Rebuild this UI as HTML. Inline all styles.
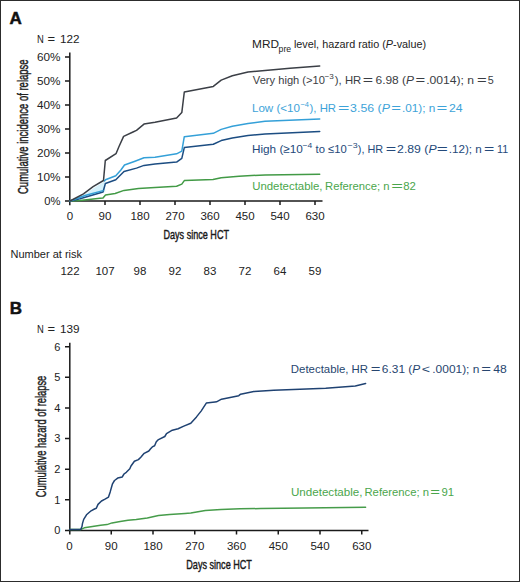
<!DOCTYPE html>
<html><head><meta charset="utf-8">
<style>
html,body{margin:0;padding:0;background:#fff;}
body{width:520px;height:582px;overflow:hidden;}
svg{display:block;}
text{font-family:"Liberation Sans",sans-serif;}
</style></head>
<body>
<svg width="520" height="582" viewBox="0 0 520 582">
<rect x="0.5" y="0.5" width="519" height="581" fill="#fff" stroke="#2c2c2c" stroke-width="1"/>

<!-- ============ PANEL A ============ -->
<text x="9.6" y="24" font-size="17" font-weight="bold" fill="#111" stroke="#111" stroke-width="0.5">A</text>
<g font-size="11.4" fill="#222"><text x="37" y="43" textLength="6.8" lengthAdjust="spacingAndGlyphs">N</text><text x="47.6" y="43" textLength="7.6" lengthAdjust="spacingAndGlyphs">=</text><text x="59.9" y="43" textLength="19.6" lengthAdjust="spacingAndGlyphs">122</text></g>

<!-- y axis title -->
<text transform="translate(28.3,194) rotate(-90)" font-size="14.4" fill="#222" stroke="#222" stroke-width="0.45" textLength="134.6" lengthAdjust="spacingAndGlyphs">Cumulative incidence of relapse</text>

<!-- y tick labels -->
<g font-size="11" fill="#222" text-anchor="end">
<text x="60.5" y="61" textLength="23.5" lengthAdjust="spacingAndGlyphs">60%</text>
<text x="60.5" y="85" textLength="23.5" lengthAdjust="spacingAndGlyphs">50%</text>
<text x="60.5" y="109" textLength="23.5" lengthAdjust="spacingAndGlyphs">40%</text>
<text x="60.5" y="133" textLength="23.5" lengthAdjust="spacingAndGlyphs">30%</text>
<text x="60.5" y="157" textLength="23.5" lengthAdjust="spacingAndGlyphs">20%</text>
<text x="60.5" y="181" textLength="23.5" lengthAdjust="spacingAndGlyphs">10%</text>
<text x="60.5" y="205" textLength="16.2" lengthAdjust="spacingAndGlyphs">0%</text>
</g>

<!-- axes -->
<g stroke="#1a1a1a" stroke-width="1.5" fill="none">
<path d="M69.8,52.6 V205.3"/>
<path d="M69,201 H322.5"/>
<path d="M65,57 H70 M65,81 H70 M65,105 H70 M65,129 H70 M65,153 H70 M65,177 H70 M65,201 H70"/>
<path d="M105,201 V205 M140,201 V205 M175,201 V205 M210,201 V205 M245,201 V205 M280,201 V205 M315,201 V205"/>
</g>

<!-- x tick labels -->
<g font-size="11.5" fill="#222" text-anchor="middle">
<text x="70" y="219.8">0</text>
<text x="105" y="219.8">90</text>
<text x="140" y="219.8">180</text>
<text x="175" y="219.8">270</text>
<text x="210" y="219.8">360</text>
<text x="245" y="219.8">450</text>
<text x="280" y="219.8">540</text>
<text x="315" y="219.8">630</text>
</g>
<text x="163.5" y="238.6" font-size="13.3" fill="#1a1a1a" stroke="#1a1a1a" stroke-width="0.45" textLength="65.5" lengthAdjust="spacingAndGlyphs">Days since HCT</text>

<!-- curves A -->
<polygon points="70,201 83.5,195.3 93.1,188.6 103.3,182.3 105,181.5 105.3,192 103,192.5" fill="#d5f1fb"/>
<g fill="none" stroke-width="1.5" stroke-linejoin="round" stroke-linecap="round">
<path stroke="#429a46" d="M70,201 L80,200.5 L100,198.3 L103,198 L105.5,195 L115.1,193.5 L124,190.4 L138.5,188.5 L155,187.6 L176.6,186.2 L181.8,184.1 L184.3,180.6 L213,179.5 L221.2,177.7 L239,176.2 L265,174.9 L319.7,174.3"/>
<path stroke="#1c4d82" d="M70,201 L80,198.8 L103,192 L105.4,183.5 L115.8,179.8 L124,171.5 L136.5,168.1 L144,165.4 L155,164.1 L176.6,162.1 L181.8,158.4 L184.3,147.6 L213.3,144.2 L221.2,140.6 L232.3,138 L248,135.4 L265,134.1 L319.7,131.4"/>
<path stroke="#34a0d8" d="M70,201 L85,195.5 L103,190.6 M104.5,181 L105.5,179.8 L115.8,175.7 L120.9,170 L124.5,165 L135,161.2 L144,157.8 L155,157.3 L176.6,153.8 L181.8,151.1 L184.3,136.7 L213.3,133.3 L221.2,129.4 L232.3,126.2 L248,123.4 L265,121.3 L319.7,118.9"/>
<path stroke="#3b3f46" d="M70,201 L83.5,193.8 L93.1,186.7 L103.5,180.5 L105.3,160.5 L116,153.7 L118.8,147 L123.6,136.4 L133,132 L136.5,130.3 L144,124.1 L155,122.3 L176.6,118.1 L181.8,112.6 L184.3,92 L213.3,86.4 L221.2,80.1 L232.3,75.8 L248,72 L265,70.6 L290,68.2 L319.7,66"/>
</g>

<!-- legend A -->
<g id="legend">
<text x="252.13" y="48.40" font-size="11.60" fill="#222" textLength="26.94" lengthAdjust="spacingAndGlyphs">MRD</text>
<text x="278.64" y="51.50" font-size="8.50" fill="#222" textLength="12.54" lengthAdjust="spacingAndGlyphs">pre</text>
<text x="293.88" y="48.40" font-size="11.60" fill="#222" textLength="132.29" lengthAdjust="spacingAndGlyphs">level, hazard ratio (<tspan font-style="italic">P</tspan>-value)</text>
<text x="252.86" y="83.60" font-size="11.60" fill="#3a3d43" textLength="72.09" lengthAdjust="spacingAndGlyphs">Very high (&gt;10</text>
<text x="324.50" y="78.80" font-size="7.80" fill="#3a3d43" textLength="9.26" lengthAdjust="spacingAndGlyphs">−3</text>
<text x="334.83" y="83.60" font-size="11.60" fill="#3a3d43" textLength="26.49" lengthAdjust="spacingAndGlyphs">), HR</text>
<text x="362.83" y="83.60" font-size="11.60" fill="#3a3d43" textLength="10.33" lengthAdjust="spacingAndGlyphs">=</text>
<text x="375.49" y="83.60" font-size="11.60" fill="#3a3d43" textLength="38.58" lengthAdjust="spacingAndGlyphs">6.98 (<tspan font-style="italic">P</tspan></text>
<text x="415.48" y="83.60" font-size="11.60" fill="#3a3d43" textLength="9.73" lengthAdjust="spacingAndGlyphs">=</text>
<text x="426.20" y="83.60" font-size="11.60" fill="#3a3d43" textLength="47.90" lengthAdjust="spacingAndGlyphs">.0014); n</text>
<text x="477.08" y="83.60" font-size="11.60" fill="#3a3d43" textLength="9.73" lengthAdjust="spacingAndGlyphs">=</text>
<text x="487.87" y="83.60" font-size="11.60" fill="#3a3d43" textLength="5.98" lengthAdjust="spacingAndGlyphs">5</text>
<text x="251.95" y="112.00" font-size="11.60" fill="#3da3d9" textLength="48.11" lengthAdjust="spacingAndGlyphs">Low (&lt;10</text>
<text x="300.43" y="107.20" font-size="7.80" fill="#3da3d9" textLength="8.59" lengthAdjust="spacingAndGlyphs">−4</text>
<text x="309.53" y="112.00" font-size="11.60" fill="#3da3d9" textLength="26.59" lengthAdjust="spacingAndGlyphs">), HR</text>
<text x="338.04" y="112.00" font-size="11.60" fill="#3da3d9" textLength="11.42" lengthAdjust="spacingAndGlyphs">=</text>
<text x="350.13" y="112.00" font-size="11.60" fill="#3da3d9" textLength="39.74" lengthAdjust="spacingAndGlyphs">3.56 (<tspan font-style="italic">P</tspan></text>
<text x="391.28" y="112.00" font-size="11.60" fill="#3da3d9" textLength="9.73" lengthAdjust="spacingAndGlyphs">=</text>
<text x="402.03" y="112.00" font-size="11.60" fill="#3da3d9" textLength="33.33" lengthAdjust="spacingAndGlyphs">.01); n</text>
<text x="436.59" y="112.00" font-size="11.60" fill="#3da3d9" textLength="10.81" lengthAdjust="spacingAndGlyphs">=</text>
<text x="448.99" y="112.00" font-size="11.60" fill="#3da3d9" textLength="13.68" lengthAdjust="spacingAndGlyphs">24</text>
<text x="251.94" y="152.80" font-size="11.60" fill="#24497a" textLength="50.93" lengthAdjust="spacingAndGlyphs">High (≥10</text>
<text x="302.48" y="148.00" font-size="7.80" fill="#24497a" textLength="9.66" lengthAdjust="spacingAndGlyphs">−4</text>
<text x="315.53" y="152.80" font-size="11.60" fill="#24497a" textLength="31.21" lengthAdjust="spacingAndGlyphs">to ≤10</text>
<text x="347.57" y="148.00" font-size="7.80" fill="#24497a" textLength="10.02" lengthAdjust="spacingAndGlyphs">−3</text>
<text x="357.83" y="152.80" font-size="11.60" fill="#24497a" textLength="25.37" lengthAdjust="spacingAndGlyphs">), HR</text>
<text x="385.82" y="152.80" font-size="11.60" fill="#24497a" textLength="10.45" lengthAdjust="spacingAndGlyphs">=</text>
<text x="397.09" y="152.80" font-size="11.60" fill="#24497a" textLength="39.49" lengthAdjust="spacingAndGlyphs">2.89 (<tspan font-style="italic">P</tspan></text>
<text x="436.77" y="152.80" font-size="11.60" fill="#24497a" textLength="11.05" lengthAdjust="spacingAndGlyphs">=</text>
<text x="448.74" y="152.80" font-size="11.60" fill="#24497a" textLength="33.02" lengthAdjust="spacingAndGlyphs">.12); n</text>
<text x="484.13" y="152.80" font-size="11.60" fill="#24497a" textLength="10.33" lengthAdjust="spacingAndGlyphs">=</text>
<text x="496.98" y="152.80" font-size="11.60" fill="#24497a" textLength="11.14" lengthAdjust="spacingAndGlyphs">11</text>
<text x="252.22" y="190.40" font-size="11.60" fill="#4aa64c" textLength="70.30" lengthAdjust="spacingAndGlyphs">Undetectable,</text>
<text x="325.08" y="190.40" font-size="11.60" fill="#4aa64c" textLength="64.46" lengthAdjust="spacingAndGlyphs">Reference; n</text>
<text x="391.31" y="190.40" font-size="11.60" fill="#4aa64c" textLength="11.78" lengthAdjust="spacingAndGlyphs">=</text>
<text x="403.31" y="190.40" font-size="11.60" fill="#4aa64c" textLength="12.66" lengthAdjust="spacingAndGlyphs">82</text>
<text x="290.87" y="372.70" font-size="11.60" fill="#27466f" textLength="57.66" lengthAdjust="spacingAndGlyphs">Detectable,</text>
<text x="351.57" y="372.70" font-size="11.60" fill="#27466f" textLength="16.46" lengthAdjust="spacingAndGlyphs">HR</text>
<text x="370.68" y="372.70" font-size="11.60" fill="#27466f" textLength="9.73" lengthAdjust="spacingAndGlyphs">=</text>
<text x="381.89" y="372.70" font-size="11.60" fill="#27466f" textLength="38.38" lengthAdjust="spacingAndGlyphs">6.31 (<tspan font-style="italic">P</tspan></text>
<text x="421.80" y="372.70" font-size="11.60" fill="#27466f" textLength="8.29" lengthAdjust="spacingAndGlyphs">&lt;</text>
<text x="432.32" y="372.70" font-size="11.60" fill="#27466f" textLength="47.06" lengthAdjust="spacingAndGlyphs">.0001); n</text>
<text x="481.28" y="372.70" font-size="11.60" fill="#27466f" textLength="9.73" lengthAdjust="spacingAndGlyphs">=</text>
<text x="493.32" y="372.70" font-size="11.60" fill="#27466f" textLength="13.51" lengthAdjust="spacingAndGlyphs">48</text>
<text x="290.91" y="495.80" font-size="11.60" fill="#4aa64c" textLength="71.64" lengthAdjust="spacingAndGlyphs">Undetectable,</text>
<text x="364.48" y="495.80" font-size="11.60" fill="#4aa64c" textLength="64.56" lengthAdjust="spacingAndGlyphs">Reference; n</text>
<text x="430.28" y="495.80" font-size="11.60" fill="#4aa64c" textLength="9.73" lengthAdjust="spacingAndGlyphs">=</text>
<text x="441.57" y="495.80" font-size="11.60" fill="#4aa64c" textLength="12.59" lengthAdjust="spacingAndGlyphs">91</text>

</g>

<!-- number at risk -->
<text x="10.5" y="257.5" font-size="11" fill="#222" textLength="71.5" lengthAdjust="spacingAndGlyphs">Number at risk</text>
<g font-size="11.5" fill="#222" text-anchor="middle">
<text x="70" y="275">122</text>
<text x="105" y="275">107</text>
<text x="140" y="275">98</text>
<text x="175" y="275">92</text>
<text x="210" y="275">83</text>
<text x="245" y="275">72</text>
<text x="280" y="275">64</text>
<text x="315" y="275">59</text>
</g>

<!-- ============ PANEL B ============ -->
<text x="9.8" y="313.8" font-size="17" font-weight="bold" fill="#111" stroke="#111" stroke-width="0.5">B</text>
<g font-size="11.4" fill="#222"><text x="37" y="333" textLength="6.8" lengthAdjust="spacingAndGlyphs">N</text><text x="47.6" y="333" textLength="7.6" lengthAdjust="spacingAndGlyphs">=</text><text x="59.9" y="333" textLength="19.6" lengthAdjust="spacingAndGlyphs">139</text></g>

<text transform="translate(46.2,497.3) rotate(-90)" font-size="14.4" fill="#222" stroke="#222" stroke-width="0.45" textLength="121.6" lengthAdjust="spacingAndGlyphs">Cumulative hazard of relapse</text>

<g font-size="11" fill="#222" text-anchor="end">
<text x="60.4" y="350.5">6</text>
<text x="60.4" y="381.1">5</text>
<text x="60.4" y="411.7">4</text>
<text x="60.4" y="442.3">3</text>
<text x="60.4" y="473.0">2</text>
<text x="60.4" y="503.6">1</text>
<text x="60.4" y="534.2">0</text>
</g>

<g stroke="#1a1a1a" stroke-width="1.5" fill="none">
<path d="M69.8,342.7 V534.6"/>
<path d="M69,530.4 H368.5"/>
<path d="M65,346.7 H70 M65,377.3 H70 M65,407.9 H70 M65,438.5 H70 M65,469.2 H70 M65,499.8 H70 M65,530.4 H70"/>
<path d="M111.25,530.4 V534.5 M153,530.4 V534.5 M194.75,530.4 V534.5 M236.5,530.4 V534.5 M278.25,530.4 V534.5 M320,530.4 V534.5 M361.75,530.4 V534.5"/>
</g>

<g font-size="11.5" fill="#222" text-anchor="middle">
<text x="69.5" y="549.5">0</text>
<text x="111.25" y="549.5">90</text>
<text x="153" y="549.5">180</text>
<text x="194.75" y="549.5">270</text>
<text x="236.5" y="549.5">360</text>
<text x="278.25" y="549.5">450</text>
<text x="320" y="549.5">540</text>
<text x="361.75" y="549.5">630</text>
</g>
<text x="186.3" y="568.6" font-size="13.3" fill="#1a1a1a" stroke="#1a1a1a" stroke-width="0.45" textLength="65.6" lengthAdjust="spacingAndGlyphs">Days since HCT</text>

<g fill="none" stroke-width="1.5" stroke-linejoin="round" stroke-linecap="round">
<path stroke="#469c4a" d="M69.6,529.6 L81,529.4 L84.3,527.8 L92.5,526.5 L100.6,525.2 L107,524.6 L112,522.9 L120.2,521.6 L128,520.3 L136.2,519.4 L147.3,517.9 L158.5,515.6 L169.6,514.5 L185,513.4 L190.8,513 L205.3,510.4 L221,509.4 L240,508.7 L260.7,508.6 L305,508 L365.6,507.3"/>
<path stroke="#1f4272" d="M69.6,529.6 L80.8,529.4 L82,526.5 L82.5,523.4 L83.7,519.4 L86.5,514.8 L91.1,510.8 L94.5,509 L96.3,508.3 L98,504.4 L101.5,501 L105,499.2 L108.5,497.1 L110.2,491.9 L112.5,483.8 L114.5,480.5 L117.7,478.1 L122.3,476.9 L124,474 L126.3,472.3 L129.8,468.8 L131,466 L134.4,461.3 L138.4,459.6 L140.8,457.3 L144.2,453.3 L148.8,451 L150.6,448.7 L152.3,446.9 L154.6,445.8 L156.3,441.7 L158,439.9 L164.8,436.5 L166.5,433.6 L172.3,430.2 L178.1,428.7 L183.8,426.1 L190.8,423.3 L196.5,416.9 L201.1,411.1 L206.3,403.1 L215,402 L216.5,401.8 L221.5,399.2 L238.8,395.7 L240.6,394.2 L253.8,391.6 L270,390.4 L273.6,390.2 L300,389.2 L325.7,388.2 L355.3,386.1 L365.6,383.5"/>
</g>


</svg>
</body></html>
